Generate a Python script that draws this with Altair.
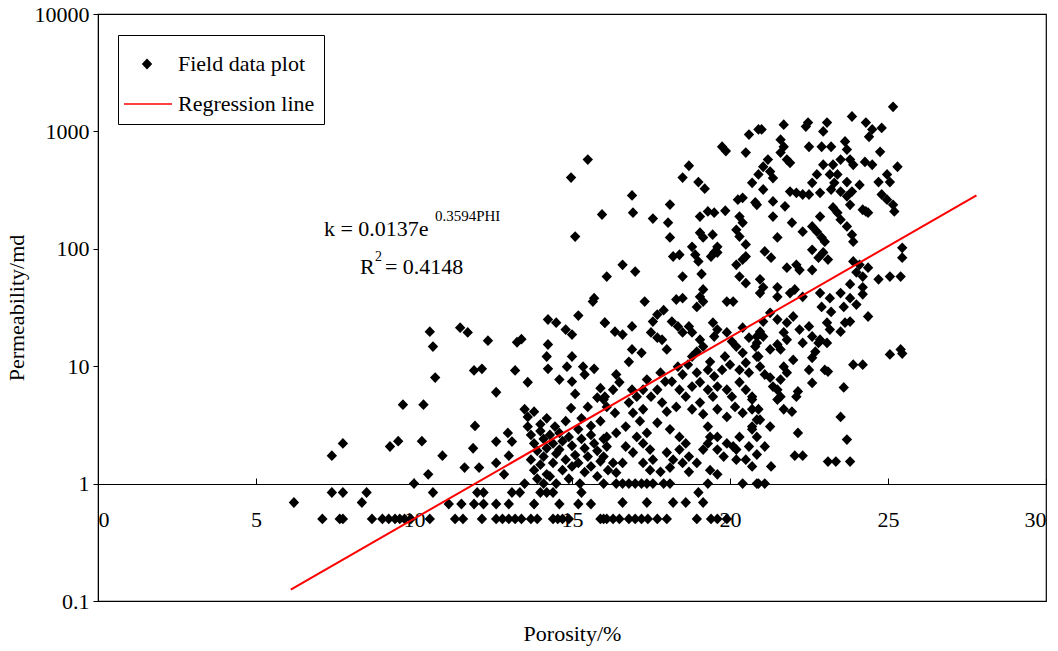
import altair as alt
import pandas as pd

# ---------------- data (porosity %, permeability md) ----------------
low_phi_pts = [
    (10.5, 19.7), (10.6, 14.7), (10.67, 8), (9.65, 4.7), (10.3, 4.7), (7.75, 2.2), (7.4, 1.73),
    (9.24, 2.07), (9.5, 2.3), (10.25, 2.3), (10.9, 1.73), (10.45, 1.2), (10.0, 1.0),
    (6.2, 0.69), (7.4, 0.84), (7.75, 0.84), (8.5, 0.84), (8.35, 0.69), (10.6, 0.84),
    (7.1, 0.5), (7.65, 0.5), (7.75, 0.5), (8.67, 0.5), (9.0, 0.5), (9.2, 0.5), (9.4, 0.5),
    (9.55, 0.5), (9.7, 0.5), (9.9, 0.5), (10.5, 0.5),
]
mid_high_pts = [
    (15.5, 575), (14.97, 404), (15.95, 196), (15.1, 127), (16.1, 58), (15.7, 38),
    (15.66, 35.5), (11.46, 21.3), (11.7, 19.4), (12.34, 16.5), (13.26, 16), (13.4, 17),
    (14.24, 25), (14.5, 23.5), (15.2, 27), (14.8, 20.5), (15.0, 18.6), (16.04, 23.5),
    (14.24, 15.3), (14.2, 12.1), (14.24, 9.5), (15.0, 12.1), (14.84, 9.9), (15.35, 9.9),
    (15.4, 8.5), (15.7, 9.5), (11.9, 9.2), (12.15, 9.5), (13.2, 9.2), (13.6, 7.3),
    (14.6, 7.7), (15.0, 7.4), (12.6, 6), (13.5, 4.3), (13.6, 3.7), (13.6, 3.06),
    (14.2, 3.6), (14.46, 3.06), (14.97, 4.4), (15.5, 4.5), (15.8, 5.4), (16.0, 5.2),
    (11.93, 3.1), (11.87, 2.0), (12.6, 2.28), (12.97, 2.7), (13.1, 2.28), (11.6, 1.37),
    (12.06, 1.37), (12.6, 1.5), (13.0, 1.73), (12.85, 1.2),
]
mid_cluster_pts = [
    (13.7, 2.6), (13.8, 2.2), (13.9, 1.9), (13.7, 1.6), (13.8, 1.3), (13.9, 1.1), (14.0, 2.8),
    (14.1, 2.4), (14.2, 2.0), (14.1, 1.7), (14.0, 1.45), (14.2, 1.2), (14.3, 2.6), (14.4, 2.2),
    (14.5, 1.8), (14.4, 1.5), (14.3, 1.15), (14.6, 2.7), (14.7, 2.3), (14.6, 1.95), (14.8, 1.6),
    (14.7, 1.3), (14.9, 1.1), (14.9, 2.5), (15.0, 2.1), (15.1, 1.75), (15.0, 1.4), (15.2, 2.9),
    (15.3, 2.4), (15.2, 1.5), (15.4, 2.0), (15.5, 1.7), (15.4, 1.25), (15.6, 2.6), (15.7, 2.2),
    (15.6, 1.4), (15.8, 1.9), (15.9, 1.55), (15.8, 1.15), (16.0, 2.4), (15.9, 3.4), (15.6, 3.1),
    (15.3, 3.6), (14.8, 3.4), (14.0, 3.2), (13.8, 4.1), (15.1, 5.8), (15.9, 6.5),
]
mid_rows_pts = [
    (12.0, 0.84), (12.2, 0.84), (13.1, 0.84), (13.35, 0.84), (14.0, 0.84), (14.2, 0.84),
    (14.4, 0.84), (15.3, 0.84),
    (11.1, 0.67), (11.5, 0.67), (11.9, 0.67), (12.2, 0.67), (12.6, 0.67), (13.0, 0.67),
    (13.8, 0.67), (14.6, 0.67), (15.2, 0.67), (15.6, 0.67),
    (11.3, 0.5), (11.55, 0.5), (12.15, 0.5), (12.6, 0.5), (12.8, 0.5), (13.0, 0.5), (13.2, 0.5),
    (13.4, 0.5), (13.7, 0.5), (13.9, 0.5), (14.4, 0.5), (14.55, 0.5), (14.7, 0.5), (14.9, 0.5),
    (16.0, 0.5),
    (13.5, 1.0), (14.1, 1.0), (14.5, 1.0), (15.25, 1.0), (16.0, 1.0),
]
upper_pts = [
    (20.6, 940), (20.9, 1040), (19.75, 740), (19.87, 680), (20.5, 660), (18.7, 510), (18.5, 404),
    (19.0, 370), (19.2, 325), (16.9, 285), (16.93, 203), (17.56, 181), (18.1, 238), (18.04, 167),
    (18.1, 125), (19.05, 188), (19.3, 208), (19.5, 203), (19.85, 211), (20.25, 262), (20.4, 272),
    (20.8, 248), (20.3, 188), (20.4, 167), (19.05, 137), (19.15, 125), (19.45, 132), (19.6, 104),
    (19.5, 93), (20.2, 145), (20.3, 127), (20.5, 109), (18.8, 104), (18.9, 89), (19.0, 78),
    (19.4, 86), (19.6, 93), (18.2, 86), (18.4, 89), (16.6, 73), (17.0, 64), (18.5, 58),
    (19.1, 61), (20.2, 73), (20.4, 81), (20.5, 86), (20.3, 58), (20.5, 51), (19.15, 45),
]
center_pts = [
    (17.3, 35.5), (18.3, 37), (18.5, 38), (19.05, 39), (19.15, 35.5), (18.95, 32), (19.9, 35.5),
    (20.1, 35.5), (16.04, 23.5), (16.36, 19.7), (16.6, 18.6), (16.9, 21.8), (17.56, 24),
    (17.7, 27.5), (17.9, 30), (17.5, 19.4), (17.7, 17.5), (18.16, 24), (18.35, 21.8), (18.5, 19.4),
    (17.85, 16.8), (18.0, 13.9), (16.9, 13.9), (16.8, 10.9), (17.2, 13), (18.7, 21.8), (18.8, 19.4),
    (19.05, 16.8), (19.15, 14.7), (18.95, 13.3), (19.46, 23.5), (19.6, 20.5), (19.5, 17.9),
    (19.9, 19.4), (20.06, 16.2), (20.2, 14.7), (20.4, 21.3), (20.6, 17.5), (20.85, 17.9),
    (20.8, 14.7), (20.9, 12.1), (20.4, 13), (20.5, 10.7), (20.3, 9.3), (19.84, 12.1), (20.0, 10.3),
    (19.75, 9.3), (19.37, 10.9), (19.3, 9.3), (19.5, 8.2), (18.8, 12.1), (18.67, 10.3),
    (18.95, 8.8), (18.35, 9.9), (18.5, 8.5), (18.16, 7.4), (17.8, 8.8), (17.95, 7.4), (17.7, 6.3),
    (17.37, 7.7), (17.25, 6.3), (17.5, 5.5), (16.4, 8.5), (16.5, 7.3), (16.3, 6.3), (16.9, 6.3),
    (17.05, 5.5), (16.8, 4.9), (16.04, 5.5), (16.1, 4.5), (16.36, 4.0), (16.93, 4.0), (17.25, 4.3),
    (17.15, 3.4), (17.85, 4.9), (18.0, 4.1), (18.3, 4.5), (18.4, 6.3), (18.6, 5.5), (18.8, 6.7),
    (19.05, 7.3), (19.3, 6.3), (19.46, 5.5), (19.6, 6.7), (19.9, 6.3), (20.06, 5.5), (20.3, 7.3),
    (20.5, 6.3), (20.7, 5.5), (20.6, 8.8), (19.05, 4.9), (18.8, 4.3), (19.15, 3.9), (19.6, 4.3),
    (19.9, 3.7), (20.16, 4.5), (20.4, 4.0), (20.7, 4.3), (20.85, 3.5), (20.7, 2.9), (20.85, 2.5),
    (16.7, 3.06), (16.4, 2.7), (16.1, 2.5), (17.05, 2.5), (17.37, 2.7), (17.7, 3.3), (18.1, 2.9),
    (18.4, 2.5), (18.6, 2.2), (18.4, 1.95), (19.3, 3.06), (19.37, 2.5), (19.3, 2.2), (19.6, 2.5),
    (19.9, 2.2), (20.1, 2.07), (19.6, 1.95), (19.8, 1.7), (20.3, 2.5), (20.2, 1.95), (20.6, 2.07),
    (16.1, 2.07), (16.0, 1.7), (16.3, 1.5), (16.7, 2.07), (16.93, 1.84), (16.6, 1.5), (17.25, 2.2),
    (17.47, 1.95), (17.56, 1.6), (17.25, 1.5), (18.0, 1.84), (18.2, 1.6), (18.5, 1.5), (18.7, 1.7),
    (18.95, 1.5), (19.15, 1.95), (20.5, 1.6), (20.7, 1.4), (19.37, 1.3), (19.6, 1.2), (16.14, 1.3),
    (16.4, 1.24), (17.47, 1.3), (17.8, 1.26), (18.1, 1.37), (18.7, 1.26), (20.2, 1.6),
]
center_rows_pts = [
    (16.4, 1.0), (16.6, 1.0), (16.8, 1.0), (17.0, 1.0), (17.2, 1.0), (17.37, 1.0), (17.56, 1.0),
    (17.9, 1.0), (18.1, 1.0), (19.3, 1.0), (20.4, 1.0), (20.85, 1.0),
    (16.6, 0.69), (17.37, 0.69), (18.2, 0.69), (18.6, 0.69), (19.15, 0.69), (19.0, 0.84),
    (15.9, 0.5), (16.1, 0.5), (16.3, 0.5), (16.5, 0.5), (16.8, 0.5), (17.0, 0.5), (17.2, 0.5),
    (17.4, 0.5), (17.7, 0.5), (18.0, 0.5), (18.95, 0.5), (19.4, 0.5), (19.6, 0.5), (19.9, 0.5),
]
right_top_pts = [
    (25.16, 1620), (23.86, 1340), (24.3, 1190), (24.5, 1040), (24.4, 900), (24.8, 1070),
    (24.75, 670), (25.3, 500), (24.97, 430), (25.06, 370), (24.7, 370), (24.8, 290), (24.97, 262),
    (25.16, 237), (25.2, 208), (24.2, 215), (24.37, 203), (24.1, 350), (23.7, 280), (23.8, 237),
    (23.7, 370), (23.86, 307), (23.64, 820), (23.7, 700), (23.2, 740), (22.9, 740), (22.5, 740),
    (21.7, 1140), (22.4, 1100), (22.47, 1190), (21.0, 1040), (23.07, 1190), (22.95, 1000),
    (21.6, 850), (21.7, 740), (21.6, 660), (23.8, 575), (23.9, 520), (24.27, 550), (24.5, 520),
    (23.5, 575), (23.26, 520), (23.4, 430), (22.95, 520), (22.75, 430), (22.6, 365), (23.16, 430),
    (23.3, 365), (23.2, 320), (23.5, 307), (21.9, 307), (22.1, 300), (22.3, 290), (22.5, 290),
    (22.85, 300), (21.2, 575), (21.05, 500), (20.9, 430), (20.7, 365), (21.27, 455), (21.36, 400),
    (21.05, 320), (21.8, 575), (21.9, 540), (20.85, 237), (21.36, 253), (21.36, 188), (21.74, 230),
    (21.96, 167), (22.3, 140), (22.6, 155), (22.85, 188), (22.75, 140), (22.9, 125), (23.0, 115),
    (23.26, 225), (23.4, 203), (23.5, 177), (23.7, 155), (23.86, 132), (23.9, 115), (24.3, 208),
    (21.5, 125), (21.1, 95), (21.3, 84), (22.6, 98), (22.95, 93), (22.8, 84), (23.1, 81),
    (21.8, 69), (22.1, 73), (22.2, 66), (22.6, 66), (24.0, 63), (24.2, 58), (24.37, 69),
    (24.7, 55), (25.06, 58), (25.4, 58), (25.45, 102), (25.45, 84), (20.95, 55), (21.05, 47),
    (21.5, 47), (22.05, 45), (23.8, 50), (24.2, 47), (23.9, 78), (24.1, 73),
]
right_low_pts = [
    (20.95, 42), (21.5, 39), (21.9, 42), (22.3, 39), (22.85, 42), (23.16, 38), (23.5, 42),
    (23.8, 38), (24.2, 41), (22.9, 32), (23.2, 29), (23.6, 32), (24.0, 33.5), (24.37, 26.5),
    (23.64, 23.5), (23.8, 24), (23.5, 19.7), (23.07, 23.5), (23.16, 20.5), (21.27, 28.5),
    (21.5, 25), (21.05, 24), (20.95, 19.7), (21.8, 23.5), (22.0, 26.5), (22.2, 20.5), (22.5, 21.8),
    (22.6, 17.9), (22.3, 15.8), (21.7, 19.4), (21.8, 16.8), (21.5, 15.3), (22.85, 16.8),
    (23.07, 15.8), (22.8, 15.8), (21.05, 17.9), (20.85, 15.8), (21.27, 13.9), (21.6, 13.9),
    (22.7, 13.3), (22.6, 11.8), (22.5, 9.3), (22.0, 11.3), (20.85, 12.1), (20.95, 9.9),
    (21.1, 8.5), (21.7, 9.9), (21.8, 8.8), (21.6, 7.7), (21.27, 8.0), (21.36, 6.7), (23.0, 9.3),
    (23.1, 9.0), (23.9, 10.3), (24.2, 10.3), (25.06, 12.6), (25.4, 13.9), (25.45, 12.8),
    (22.6, 7.2), (23.6, 6.6), (22.15, 6.1), (22.1, 5.5), (21.5, 6.3), (21.5, 5.2), (21.7, 4.3),
    (21.6, 5.5), (20.7, 5.2), (20.9, 4.3), (20.95, 3.5), (20.7, 3.06), (21.96, 4.1), (23.5, 3.7),
    (21.27, 3.06), (22.15, 2.7), (23.7, 2.37), (21.1, 2.07), (20.85, 1.77), (22.05, 1.73),
    (22.3, 1.73), (23.1, 1.54), (23.35, 1.54), (23.8, 1.54), (21.3, 1.4), (20.9, 1.0), (21.1, 1.0),
]

# regression line end points
reg_phi = [6.1, 27.8]
reg_k = [0.125, 285]

# axis ticks
x_ticks = [0, 5, 10, 15, 20, 25, 30]
y_ticks = [0.1, 1, 10, 100, 1000, 10000]
series_names = ["Field data plot", "Regression line"]

rows = (low_phi_pts + mid_high_pts + mid_cluster_pts + mid_rows_pts + upper_pts
        + center_pts + center_rows_pts + right_top_pts + right_low_pts)
pts = pd.DataFrame(rows, columns=["phi", "k"])
pts["series"] = series_names[0]
reg = pd.DataFrame({"phi": reg_phi, "k": reg_k})
reg["series"] = series_names[1]

SERIF = "Liberation Serif"
FS = 22
DIAMOND = "M0,-0.27L0.26,0L0,0.27L-0.26,0Z"
LINE = "M-1.15,-0.035H1.25V0.035H-1.15Z"

xscale = alt.Scale(domain=[0, 30], nice=False, zero=False)
yscale = alt.Scale(type="log", domain=[0.1, 10000], nice=False)
color_scale = alt.Scale(domain=series_names, range=["black", "#ff0000"])
shape_scale = alt.Scale(domain=series_names, range=[DIAMOND, LINE])

legend = alt.Legend(
    title=None, orient="none", legendX=20, legendY=21,
    strokeColor="black", fillColor="white", padding=9, cornerRadius=0,
    labelFont=SERIF, labelFontSize=FS, labelColor="black", labelOffset=11,
    symbolSize=1600, symbolStrokeWidth=0, rowPadding=9, labelLimit=400,
)

x_bottom = alt.Axis(
    orient="bottom", offset=-117.4, domain=False, ticks=False, grid=False, values=x_ticks,
    labelPadding=26, labelFont=SERIF, labelFontSize=FS, labelColor="black",
    title="Porosity/%", titleFont=SERIF, titleFontSize=FS, titleFontWeight="normal",
    titleColor="black", titlePadding=93,
)
x_top = alt.Axis(
    orient="top", offset=-470, labels=False, grid=False, values=x_ticks, tickSize=6,
    domainColor="black", tickColor="black", domainWidth=1.2, title=None,
)
y_axis = alt.Axis(
    values=y_ticks, format="~g", grid=False, tickSize=5, tickColor="black", domainColor="black",
    labelPadding=4, labelFont=SERIF, labelFontSize=FS, labelColor="black",
    title="Permeability/md", titleFont=SERIF, titleFontSize=FS, titleFontWeight="normal",
    titleColor="black", titlePadding=6,
)

points = alt.Chart(pts).mark_point(filled=True, opacity=1, size=1600).encode(
    x=alt.X("phi:Q", scale=xscale, axis=x_bottom),
    y=alt.Y("k:Q", scale=yscale, axis=y_axis),
    color=alt.Color("series:N", scale=color_scale, legend=legend),
    shape=alt.Shape("series:N", scale=shape_scale, legend=legend),
)

line = alt.Chart(reg).mark_line(strokeWidth=2).encode(
    x=alt.X("phi:Q", scale=xscale, axis=x_top),
    y=alt.Y("k:Q", scale=yscale),
    color=alt.Color("series:N", scale=color_scale, legend=legend),
)

one = alt.Data(values=[{}])
txt = dict(align="left", baseline="alphabetic", font=SERIF, color="black")
eq_main = alt.Chart(one).mark_text(fontSize=FS, text="k = 0.0137e", **txt).encode(
    x=alt.datum(7.15), y=alt.datum(129))
eq_sup = alt.Chart(one).mark_text(fontSize=15, text="0.3594PHI", dx=111, dy=-15, **txt).encode(
    x=alt.datum(7.15), y=alt.datum(129))
r_main = alt.Chart(one).mark_text(fontSize=FS, text="R", **txt).encode(
    x=alt.datum(8.29), y=alt.datum(61.5))
r_sup = alt.Chart(one).mark_text(fontSize=14, text="2", dx=15, dy=-13, **txt).encode(
    x=alt.datum(8.29), y=alt.datum(61.5))
r_rest = alt.Chart(one).mark_text(fontSize=FS, text=" = 0.4148", dx=25, **txt).encode(
    x=alt.datum(8.29), y=alt.datum(61.5))

base = alt.layer(points, eq_main, eq_sup, r_main, r_sup, r_rest)

chart = (
    alt.layer(base, line)
    .resolve_axis(x="independent")
    .properties(
        width=948, height=587,
        padding={"left": 98, "top": 14, "right": 12, "bottom": 50},
        autosize=alt.AutoSizeParams(type="none"),
        background="white",
    )
    .configure_view(stroke="black", strokeWidth=1.2)
)

chart.save("out.html", embed_options={"renderer": "svg", "actions": False})
